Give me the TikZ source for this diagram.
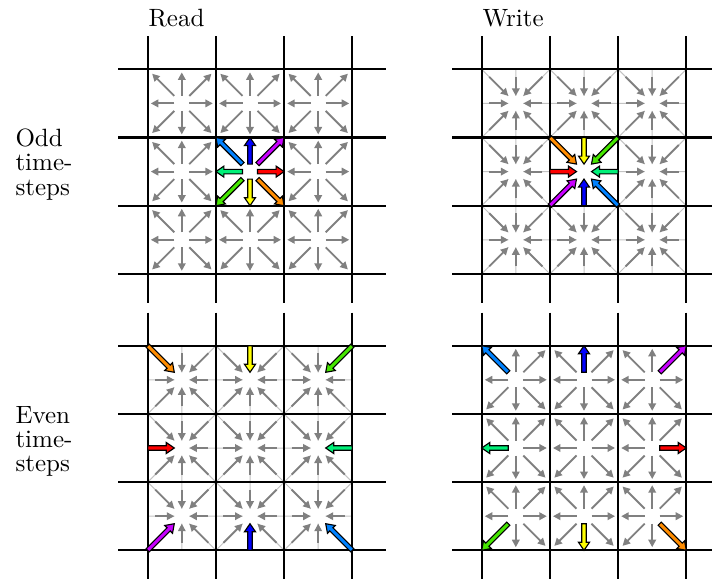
\documentclass[tikz,border=0pt]{standalone}
\usetikzlibrary{calc,arrows.meta}
\definecolor{mvpz}{RGB}{255,0,0}
\definecolor{mvpp}{RGB}{255,140,0}
\definecolor{mvzp}{RGB}{255,255,0}
\definecolor{mvmp}{RGB}{70,230,0}
\definecolor{mvmz}{RGB}{0,240,120}
\definecolor{mvmm}{RGB}{0,130,255}
\definecolor{mvzm}{RGB}{0,0,255}
\definecolor{mvpm}{RGB}{200,0,255}
\definecolor{gArrow}{RGB}{128,128,128}
\definecolor{gLight}{RGB}{195,195,195}
\tikzset{
  gridline/.style={line width=0.9pt,draw=black},
  garrow/.style={draw=gArrow,line width=0.75pt,-{Triangle[length=3pt,width=3pt]}},
  glight/.style={draw=gLight,line width=0.4pt},
  carrowshape/.style={draw=black,line width=0.45pt,line join=miter},
  lbl/.style={anchor=base west,inner sep=0pt,font=\fontsize{10pt}{12pt}\selectfont},
}
\newcommand\sgnl[1]{\ifnum#1<0 m\else\ifnum#1>0 p\else z\fi\fi}
\newcommand\carr[3]{%
  \coordinate (hb) at ($(#2)!3.2pt!(#1)$);
  \filldraw[carrowshape,fill=#3]
    ($(#1)!0.9pt!90:(#2)$) -- ($(hb)!0.9pt!90:(#2)$) -- ($(hb)!2.2pt!90:(#2)$) -- (#2)
    -- ($(hb)!2.2pt!-90:(#2)$) -- ($(hb)!0.9pt!-90:(#2)$) -- ($(#1)!0.9pt!-90:(#2)$) -- cycle;
}
% #1 = pass: 0 gray arrows, 1 coloured arrows
\newcommand\arrowpass[1]{%
\foreach \pan/\px/\py/\md in {1/147.7/69.3/0, 2/481.7/69.3/1, 3/147.7/345.7/1, 4/481.7/345.7/0}{
  \foreach \i in {0,1,2}{
    \foreach \j in {0,1,2}{
      \coordinate (c) at (\px+\i*68.2+34.1,\py+\j*68.2+34.1);
      \foreach \dx/\dy in {1/0,1/1,0/1,-1/1,-1/0,-1/-1,0/-1,1/-1}{
        \pgfmathtruncatemacro\iscol{(\pan<3)*(\i==1)*(\j==1)+(\pan>2)*(\dx==\i-1)*(\dy==\j-1)}
        \ifnum\iscol=#1
          \coordinate (e) at ($(c)+(\dx*34.1,\dy*34.1)$);
          \coordinate (g) at ($(c)!0.22!(e)$);
          \ifnum\iscol=1
            \ifnum\md=0
              \edef\ccol{mv\sgnl{\dx}\sgnl{\dy}}%
              \carr{g}{e}{\ccol}
            \else
              \edef\ccol{mv\sgnl{-\dx}\sgnl{-\dy}}%
              \carr{e}{g}{\ccol}
            \fi
          \else
            \pgfmathsetmacro\reach{\dx*\dy==0 ? 0.91 : 0.87}
            \coordinate (f) at ($(c)!\reach!(e)$);
            \ifnum\md=0
              \draw[garrow] (g) -- (f);
            \else
              \draw[glight] (e) -- (g);
              \draw[garrow] ($(e)!0.22!(c)$) -- (g);
            \fi
          \fi
        \fi
      }
    }
  }
}}
\begin{document}
\begin{tikzpicture}[x=0.4pt,y=-0.4pt]
\useasboundingbox (0,0) rectangle (712,579);
\clip (0,0) rectangle (712,579);
\node[lbl] (read) at (148,27) {Read};
\node[lbl] (write) at (482,27) {Write};
\node[lbl] (odda) at (15,147) {Odd};
\node[lbl] (oddb) at (15,171) {time-};
\node[lbl] (oddc) at (15,195) {steps};
\node[lbl] (evena) at (15,423) {Even};
\node[lbl] (evenb) at (15,447) {time-};
\node[lbl] (evenc) at (15,471) {steps};
\arrowpass{0}
\foreach \px/\py in {147.7/69.3, 481.7/69.3, 147.7/345.7, 481.7/345.7}{
  \foreach \k in {0,1,2,3}{
    \draw[gridline] (\px+\k*68.2,\py-33) -- (\px+\k*68.2,\py+204.6+29);
    \draw[gridline] (\px-29.5,\py+\k*68.2) -- (\px+204.6+33.5,\py+\k*68.2);
  }
}
\arrowpass{1}
\end{tikzpicture}
\end{document}
